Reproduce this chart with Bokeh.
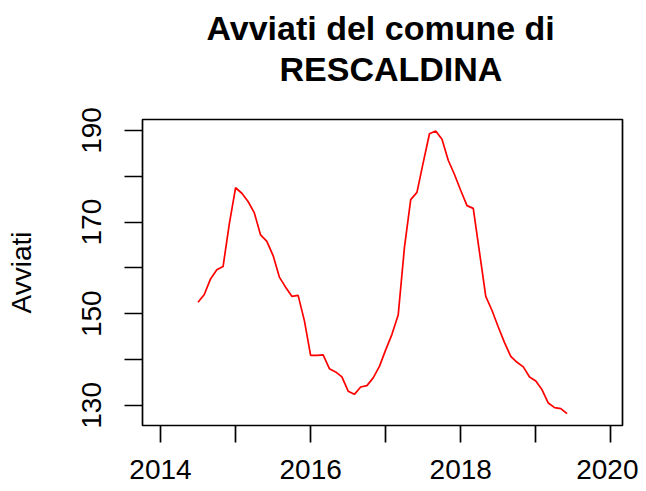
from bokeh.plotting import figure
from bokeh.models import Range1d, FixedTicker, Title
from bokeh.embed import file_html
from bokeh.resources import INLINE

# ---- data ----
start_year = 2014
start_month = 7  # July 2014
avviati = [152.5, 154.2, 157.6, 159.6, 160.3, 169.6, 177.5, 176.3, 174.5, 172.0,
           167.2, 165.8, 162.7, 158.0, 155.8, 153.8, 154.0, 148.5, 140.9, 140.9,
           141.0, 138.0, 137.3, 136.2, 133.1, 132.4, 134.0, 134.3, 136.0, 138.5,
           142.1, 145.5, 149.7, 164.5, 174.9, 176.5, 183.0, 189.3, 189.9, 188.1,
           183.5, 180.4, 176.9, 173.6, 173.0, 163.4, 153.8, 150.7, 147.1, 143.7,
           140.7, 139.4, 138.4, 136.2, 135.3, 133.4, 130.5, 129.5, 129.3, 128.2]
time = [start_year + (start_month - 1 + i) / 12 for i in range(len(avviati))]

x_ticks = [2014, 2015, 2016, 2017, 2018, 2019, 2020]
x_tick_labels = {2014: "2014", 2015: "", 2016: "2016", 2017: "", 2018: "2018", 2019: "", 2020: "2020"}
y_ticks = [130, 140, 150, 160, 170, 180, 190]
y_tick_labels = {130: "130", 140: "", 150: "150", 160: "", 170: "170", 180: "", 190: "190"}

title_line1 = "Avviati del comune di"
title_line2 = "RESCALDINA"
y_label = "Avviati"

FONT = "Liberation Sans"

p = figure(width=638, height=483,
           x_range=Range1d(2013.76, 2020.155), y_range=Range1d(125.6, 192.4),
           output_backend="svg", toolbar_location=None,
           min_border_left=142, min_border_right=16,
           min_border_top=119, min_border_bottom=58)

p.line(time, avviati, line_color="red", line_width=1.7)

p.xgrid.visible = False
p.ygrid.visible = False
p.outline_line_color = "black"
p.outline_line_width = 1.7
p.background_fill_color = "white"
p.border_fill_color = "white"

for ax in (p.xaxis[0], p.yaxis[0]):
    ax.axis_line_color = None
    ax.major_tick_line_color = "black"
    ax.major_tick_line_width = 1.7
    ax.major_tick_in = 0
    ax.minor_tick_line_color = None
    ax.major_label_text_font = FONT
    ax.major_label_text_font_size = "28px"
    ax.major_label_text_color = "black"

xa = p.xaxis[0]
xa.ticker = FixedTicker(ticks=x_ticks)
xa.major_label_overrides = x_tick_labels
xa.major_tick_out = 17
xa.major_label_standoff = 17

ya = p.yaxis[0]
ya.ticker = FixedTicker(ticks=y_ticks)
ya.major_label_overrides = y_tick_labels
ya.major_tick_out = 18
ya.major_label_standoff = 23
ya.major_label_orientation = "vertical"
ya.axis_label = y_label
ya.axis_label_text_font = FONT
ya.axis_label_text_font_size = "28px"
ya.axis_label_text_font_style = "normal"
ya.axis_label_text_color = "black"
ya.axis_label_standoff = 43

# nearest to the frame first
p.add_layout(Title(text=title_line2, align="left", offset=137, standoff=2,
                   padding=dict(top=0, right=0, bottom=31, left=0),
                   text_font=FONT, text_font_size="34px", text_font_style="bold",
                   text_color="black"), "above")
p.add_layout(Title(text=title_line1, align="left", offset=64, standoff=0,
                   text_font=FONT, text_font_size="34px", text_font_style="bold",
                   text_color="black"), "above")

open("out.html", "w").write(file_html(p, INLINE))
